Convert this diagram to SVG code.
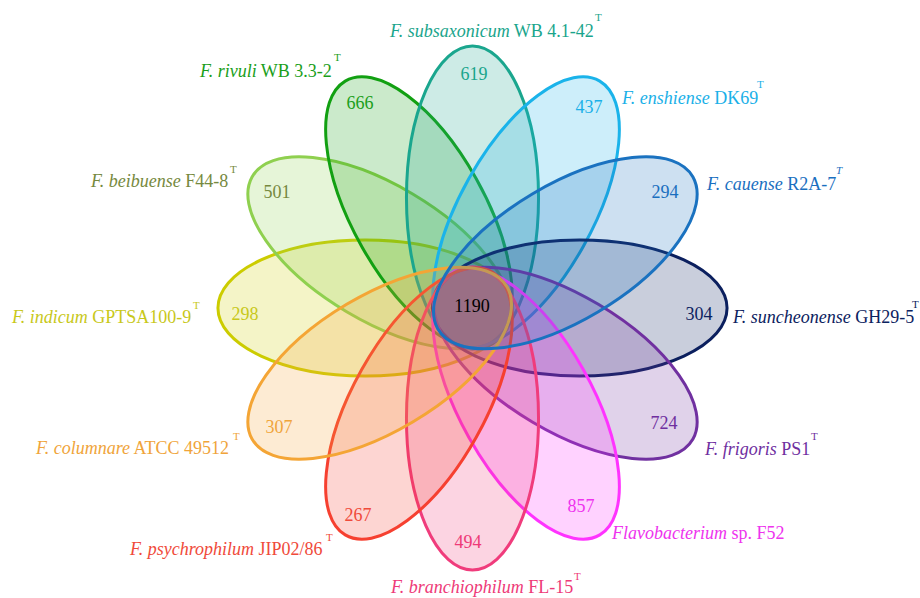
<svg xmlns="http://www.w3.org/2000/svg" width="920" height="598" viewBox="0 0 920 598">
<style>
.e{stroke-width:3;fill-opacity:0.22;vector-effect:non-scaling-stroke}
.n{font-family:"Liberation Serif",serif;font-size:18px;text-anchor:middle}
.l{font-family:"Liberation Serif",serif;font-size:18px}
.i{font-style:italic}
.t{font-family:"Liberation Serif",serif;font-size:11px}
</style>
<rect width="920" height="598" fill="#fff"/>
<g id="sets" transform="translate(472.5 308) scale(0.957 0.985)">
<g id="s-indicum"><ellipse class="e" cx="112" cy="0" rx="154" ry="69" transform="rotate(180)" fill="#cccc00" stroke="#cccc00"/></g>
<g id="s-beibuense"><ellipse class="e" cx="112" cy="0" rx="154" ry="69" transform="rotate(210)" fill="#8fd04f" stroke="#8fd04f"/></g>
<g id="s-rivuli"><ellipse class="e" cx="112" cy="0" rx="154" ry="69" transform="rotate(240)" fill="#12a012" stroke="#12a012"/></g>
<g id="s-subsaxonicum"><ellipse class="e" cx="112" cy="0" rx="154" ry="69" transform="rotate(270)" fill="#1aa68e" stroke="#1aa68e"/></g>
<g id="s-enshiense"><ellipse class="e" cx="112" cy="0" rx="154" ry="69" transform="rotate(300)" fill="#1ab3ea" stroke="#1ab3ea"/></g>
<g id="s-suncheonense"><ellipse class="e" cx="112" cy="0" rx="154" ry="69" fill="#0b1f5e" stroke="#0b1f5e"/></g>
<g id="s-frigoris"><ellipse class="e" cx="112" cy="0" rx="154" ry="69" transform="rotate(30)" fill="#7030a0" stroke="#7030a0"/></g>
<g id="s-flavobacterium"><ellipse class="e" cx="112" cy="0" rx="154" ry="69" transform="rotate(60)" fill="#ff33ff" stroke="#ff33ff"/></g>
<g id="s-branchiophilum"><ellipse class="e" cx="112" cy="0" rx="154" ry="69" transform="rotate(90)" fill="#f03c7c" stroke="#f03c7c"/></g>
<g id="s-psychrophilum"><ellipse class="e" cx="112" cy="0" rx="154" ry="69" transform="rotate(120)" fill="#f64030" stroke="#f64030"/></g>
<g id="s-columnare"><ellipse class="e" cx="112" cy="0" rx="154" ry="69" transform="rotate(150)" fill="#f4a535" stroke="#f4a535"/></g>
<g id="s-cauense"><ellipse class="e" cx="112" cy="0" rx="154" ry="69" transform="rotate(330)" fill="#1a72c0" stroke="#1a72c0"/></g>
</g>
<g id="counts">
<text class="n" x="474" y="80" fill="#1aa58c">619</text>
<text class="n" x="360" y="109" fill="#1a9e1a">666</text>
<text class="n" x="589" y="113" fill="#1ab0e8">437</text>
<text class="n" x="277" y="198" fill="#76893e">501</text>
<text class="n" x="665" y="198" fill="#1a6fbf">294</text>
<text class="n" x="245" y="320" fill="#c8c81a">298</text>
<text class="n" x="699" y="320" fill="#0c2260">304</text>
<text class="n" x="279" y="433" fill="#f0a43a">307</text>
<text class="n" x="664" y="429" fill="#6f2f9f">724</text>
<text class="n" x="358" y="521" fill="#f04a3a">267</text>
<text class="n" x="581" y="512" fill="#ee33ee">857</text>
<text class="n" x="468" y="548" fill="#ee3a78">494</text>
<text class="n" x="472" y="312" fill="#000">1190</text>
</g>
<g id="labels">
<text class="l" x="390" y="37" fill="#1aa58c"><tspan class="i">F. subsaxonicum</tspan> WB 4.1-42</text><text class="t" x="595" y="21" fill="#1aa58c">T</text>
<text class="l" x="200" y="77" fill="#1a9e1a"><tspan class="i">F. rivuli</tspan> WB 3.3-2</text><text class="t" x="334" y="61" fill="#1a9e1a">T</text>
<text class="l" x="622" y="104" fill="#1ab0e8"><tspan class="i">F. enshiense</tspan> DK69</text><text class="t" x="757" y="88" fill="#1ab0e8">T</text>
<text class="l" x="707" y="190" fill="#1a6fbf"><tspan class="i">F. cauense</tspan> R2A-7</text><text class="t i" x="836" y="174" fill="#1a6fbf">T</text>
<text class="l" x="91" y="187" fill="#76893e"><tspan class="i">F. beibuense</tspan> F44-8</text><text class="t" x="230" y="173" fill="#76893e">T</text>
<text class="l" x="12" y="323" fill="#c8c81a"><tspan class="i">F. indicum</tspan> GPTSA100-9</text><text class="t" x="193" y="309" fill="#c8c81a">T</text>
<text class="l" x="733" y="323" fill="#0c2260"><tspan class="i">F. suncheonense</tspan> GH29-5</text><text class="t" x="912" y="308" fill="#0c2260">T</text>
<text class="l" x="705" y="455" fill="#6f2f9f"><tspan class="i">F. frigoris</tspan> PS1</text><text class="t" x="811" y="440" fill="#6f2f9f">T</text>
<text class="l" x="36" y="454" fill="#f0a43a"><tspan class="i">F. columnare</tspan> ATCC 49512</text><text class="t" x="233" y="440" fill="#f0a43a">T</text>
<text class="l" x="130" y="555" fill="#f04a3a"><tspan class="i">F. psychrophilum</tspan> JIP02/86</text><text class="t" x="326" y="541" fill="#f04a3a">T</text>
<text class="l" x="612" y="539" fill="#ee33ee"><tspan class="i">Flavobacterium</tspan> sp. F52</text>
<text class="l" x="391" y="593" fill="#ee3a78"><tspan class="i">F. branchiophilum</tspan> FL-15</text><text class="t" x="574" y="580" fill="#ee3a78">T</text>
</g>
</svg>
